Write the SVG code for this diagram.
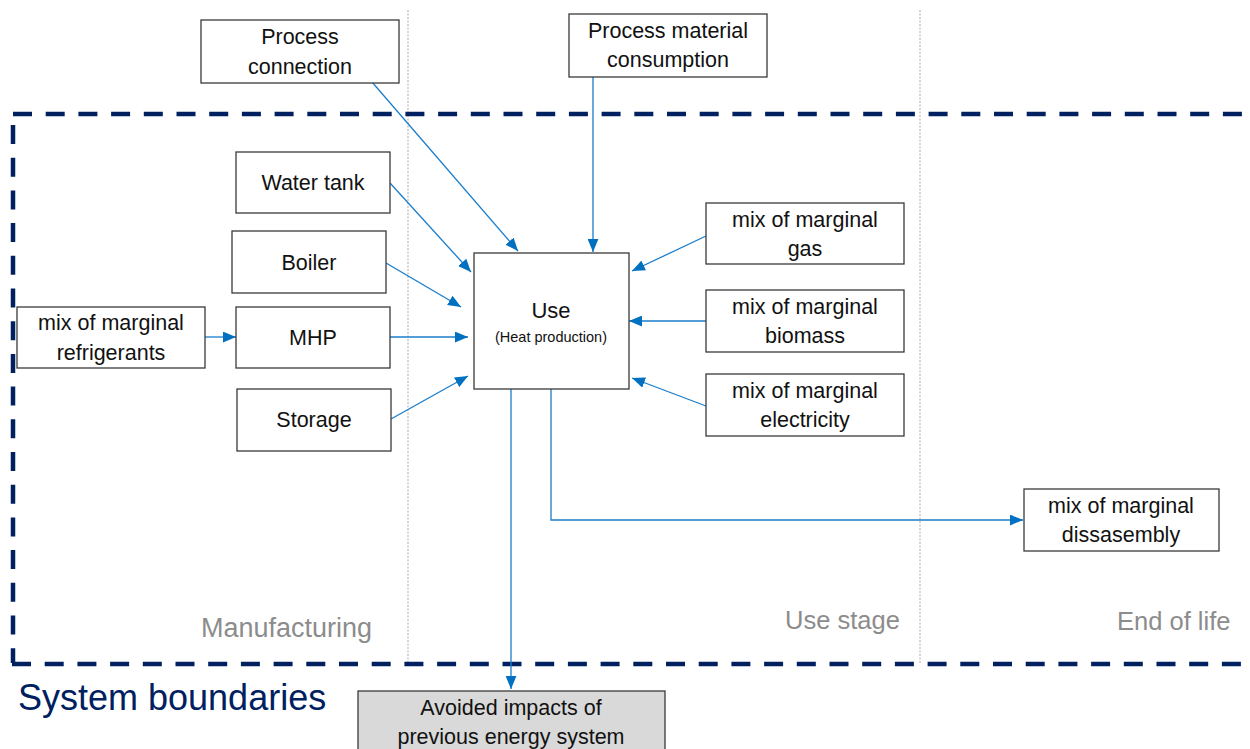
<svg xmlns="http://www.w3.org/2000/svg" width="1250" height="749" viewBox="0 0 1250 749">
<style>
  .box { fill: #ffffff; stroke: #3a3a3a; stroke-width: 1.3; }
  .gbox { fill: #d9d9d9; stroke: #3a3a3a; stroke-width: 1.3; }
  .t { font-family: "Liberation Sans", Arial, sans-serif; font-size: 21.5px; fill: #111111; text-anchor: middle; }
  .stage { font-family: "Liberation Sans", Arial, sans-serif; font-size: 25.5px; fill: #8c8c8c; }
  .sysb { font-family: "Liberation Sans", Arial, sans-serif; font-size: 36px; fill: #002060; }
  .bnd { stroke: #002060; stroke-width: 4.5; stroke-dasharray: 19 13.7; fill: none; }
  .sep { stroke: #c8c8c8; stroke-width: 1.5; stroke-dasharray: 2 1.5; fill: none; }
  .c { stroke: #1a7dcc; stroke-width: 1.3; fill: none; marker-end: url(#arr); }
</style>
<defs>
  <marker id="arr" viewBox="0 0 12 10" refX="12" refY="5" markerWidth="13" markerHeight="11" markerUnits="userSpaceOnUse" orient="auto">
    <path d="M0,0 L12,5 L0,10 z" fill="#0070c0"/>
  </marker>
</defs>
<rect width="1250" height="749" fill="#ffffff"/>

<g id="separators">
  <line class="sep" x1="408" y1="10" x2="408" y2="663"/>
  <line class="sep" x1="920" y1="10" x2="920" y2="663"/>
</g>

<g id="boundary">
  <line class="bnd" x1="13" y1="114" x2="1250" y2="114"/>
  <line class="bnd" x1="13" y1="125" x2="13" y2="663"/>
  <line class="bnd" x1="12" y1="664" x2="1250" y2="664"/>
  <text class="sysb" x="18" y="710">System boundaries</text>
</g>

<g id="stages">
  <text class="stage" x="201" y="637" style="font-size:27px">Manufacturing</text>
  <text class="stage" x="785" y="629">Use stage</text>
  <text class="stage" x="1117" y="630">End of life</text>
</g>

<g id="connectors">
  <line class="c" x1="372" y1="82" x2="518" y2="251"/>
  <line class="c" x1="593" y1="77" x2="593" y2="252"/>
  <line class="c" x1="390" y1="183" x2="471" y2="272"/>
  <line class="c" x1="386" y1="263" x2="461" y2="307"/>
  <line class="c" x1="390" y1="337" x2="468" y2="337"/>
  <line class="c" x1="391" y1="419" x2="468" y2="376"/>
  <line class="c" x1="205" y1="337" x2="236" y2="337"/>
  <line class="c" x1="706" y1="236" x2="632" y2="271"/>
  <line class="c" x1="706" y1="321" x2="629" y2="321"/>
  <line class="c" x1="706" y1="406" x2="632" y2="378"/>
  <polyline class="c" points="551,389 551,520 1023,520"/>
  <line class="c" x1="511" y1="389" x2="511" y2="689"/>
</g>

<g id="process-connection">
  <rect class="box" x="201" y="20" width="198" height="63"/>
  <text class="t" x="300" y="44">Process</text>
  <text class="t" x="300" y="74">connection</text>
</g>
<g id="process-material">
  <rect class="box" x="569" y="14" width="198" height="63"/>
  <text class="t" x="668" y="38">Process material</text>
  <text class="t" x="668" y="67">consumption</text>
</g>
<g id="water-tank">
  <rect class="box" x="236" y="152" width="154" height="61"/>
  <text class="t" x="313" y="190">Water tank</text>
</g>
<g id="boiler">
  <rect class="box" x="232" y="231" width="154" height="62"/>
  <text class="t" x="309" y="270">Boiler</text>
</g>
<g id="mhp">
  <rect class="box" x="236" y="307" width="154" height="61"/>
  <text class="t" x="313" y="345">MHP</text>
</g>
<g id="storage">
  <rect class="box" x="237" y="389" width="154" height="62"/>
  <text class="t" x="314" y="427">Storage</text>
</g>
<g id="refrigerants">
  <rect class="box" x="17" y="307" width="188" height="61"/>
  <text class="t" x="111" y="330">mix of marginal</text>
  <text class="t" x="111" y="360">refrigerants</text>
</g>
<g id="use">
  <rect class="box" x="474" y="253" width="155" height="136"/>
  <text class="t" x="551" y="318" style="font-size:22px">Use</text>
  <text class="t" x="551" y="342" style="font-size:14.5px">(Heat production)</text>
</g>
<g id="gas">
  <rect class="box" x="706" y="203" width="198" height="61"/>
  <text class="t" x="805" y="227">mix of marginal</text>
  <text class="t" x="805" y="256">gas</text>
</g>
<g id="biomass">
  <rect class="box" x="706" y="290" width="198" height="62"/>
  <text class="t" x="805" y="314">mix of marginal</text>
  <text class="t" x="805" y="343">biomass</text>
</g>
<g id="electricity">
  <rect class="box" x="706" y="374" width="198" height="62"/>
  <text class="t" x="805" y="398">mix of marginal</text>
  <text class="t" x="805" y="427">electricity</text>
</g>
<g id="dissasembly">
  <rect class="box" x="1024" y="489" width="195" height="62"/>
  <text class="t" x="1121" y="513">mix of marginal</text>
  <text class="t" x="1121" y="542">dissasembly</text>
</g>
<g id="avoided">
  <rect class="gbox" x="358" y="691" width="307" height="70"/>
  <text class="t" x="511" y="715">Avoided impacts of</text>
  <text class="t" x="511" y="744">previous energy system</text>
</g>
</svg>
